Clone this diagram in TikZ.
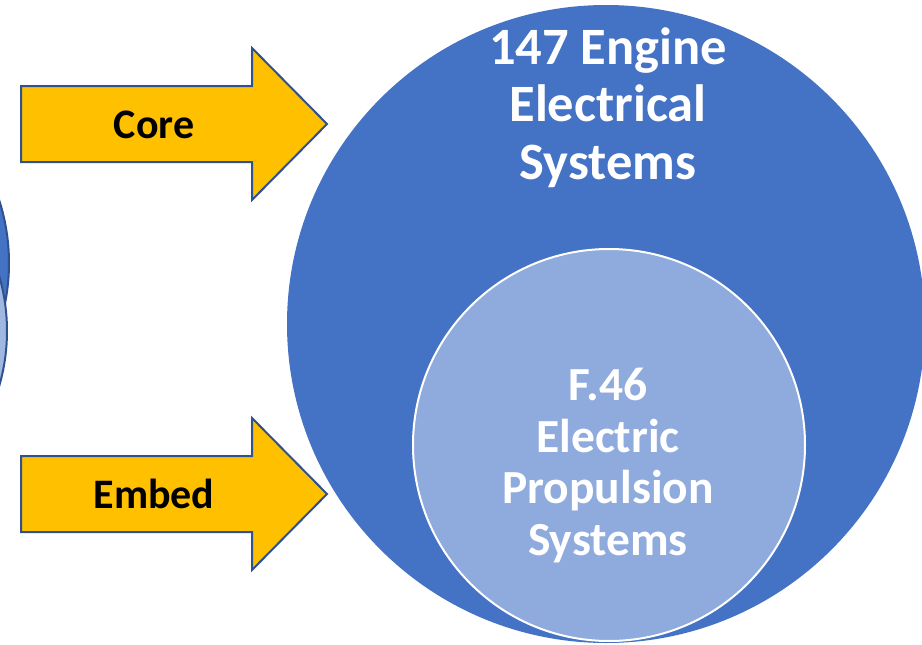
\documentclass[tikz,border=0pt]{standalone}
\usepackage{fontspec}
\setmainfont{Carlito}
\usetikzlibrary{positioning}
\definecolor{accentblue}{RGB}{68,114,196}
\definecolor{paleblue}{RGB}{143,170,220}
\definecolor{edgeblue}{RGB}{47,82,143}
\definecolor{gold}{RGB}{255,192,0}

\begin{document}
\begin{tikzpicture}[
  x=1pt, y=-1pt,
  every node/.style={font=\bfseries},
  pointer/.style={draw=edgeblue, line width=2pt, fill=gold, line join=miter},
  outer/.style={circle, fill=accentblue, inner sep=0pt, minimum size=638pt},
  inner/.style={circle, fill=paleblue, draw=white, line width=2pt, inner sep=0pt, minimum size=392pt},
  stub/.style={draw=edgeblue, line width=2pt},
  circletext/.style={text=white, align=center, anchor=base}
]
\useasboundingbox (0,0) rectangle (922,645);
\begin{scope}
\clip (0,0) rectangle (922,645);
% circles cut off at the left
\filldraw[stub, fill=accentblue] (-196,263) circle (205);
\filldraw[stub, fill=paleblue!85!white] (-190,331) circle (197);
% main circles
\node[outer] (engine) at (606,324) {};
\node[inner] (propulsion) at (609,445) {};
\end{scope}

% base = baseline of the last line
\node[circletext, font=\bfseries\fontsize{52.5}{57.5}\selectfont] (enginetext) at (608,179)
  {147 Engine\\Electrical\\Systems};
\node[circletext, font=\bfseries\fontsize{47.5}{51.5}\selectfont] (proptext) at (608,555)
  {F.46\\Electric\\Propulsion\\Systems};

% arrows
\foreach \ypos/\word/\id in {124/Core/core, 494/Embed/embed}{
  \draw[pointer] (21,\ypos-38) -- (252,\ypos-38) -- (252,\ypos-76) -- (327,\ypos)
    -- (252,\ypos+76) -- (252,\ypos+38) -- (21,\ypos+38) -- cycle;
  \node[anchor=base, font=\bfseries\fontsize{42}{50}\selectfont] (\id) at (154,\ypos+14) {\word};
}
\end{tikzpicture}
\end{document}
